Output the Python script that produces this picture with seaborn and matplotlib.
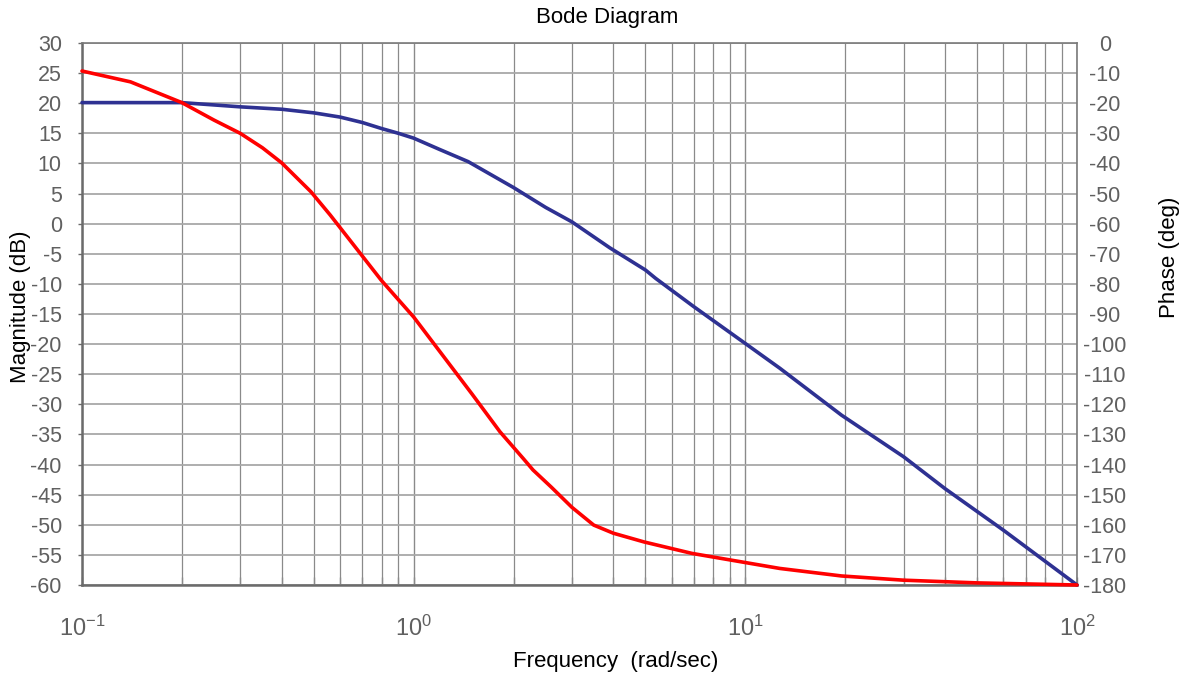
import matplotlib
matplotlib.use("Agg")
import matplotlib.pyplot as plt
import seaborn as sns
import pandas as pd
import numpy as np

# Magnitude curve (left axis, dB)
freq_mag = [0.1, 0.2, 0.3, 0.4, 0.5, 0.6, 0.7, 0.8, 0.9, 1.0, 1.2, 1.46, 2.0, 2.5,
            3.0, 3.9, 5.0, 5.37, 7.0, 10, 12.7, 19.5, 30, 40, 60, 100]
mag_db = [20.1, 20.1, 19.4, 19.0, 18.4, 17.7, 16.8, 15.8, 15.0, 14.2, 12.3, 10.3,
          6.0, 2.7, 0.3, -4.0, -7.7, -9.1, -13.8, -19.9, -24.0, -31.8, -38.7,
          -44.0, -50.9, -60]

# Phase curve (right axis, deg)
freq_ph = [0.1, 0.14, 0.2, 0.25, 0.3, 0.35, 0.4, 0.49, 0.56, 0.8, 1.0, 1.5, 1.82,
           2.14, 2.29, 2.6, 3.0, 3.49, 4.0, 4.95, 6.9, 11.1, 12.7, 19.5, 30, 50, 100]
phase_deg = [-9.3, -12.9, -19.8, -25.6, -30, -34.8, -39.8, -49.4, -57.1, -78.9, -91,
             -116.6, -129.1, -138, -141.8, -147.5, -154.2, -160.1, -162.8, -165.7,
             -169.5, -173.4, -174.5, -177, -178.4, -179.3, -180]

mag_ticks = list(range(-60, 31, 5))
phase_ticks = list(range(-180, 1, 10))
freq_ticks = [0.1, 1, 10, 100]
freq_labels = [r'$10^{\text{-1}}$', r'$10^{0}$', r'$10^{1}$', r'$10^{2}$']

sns.set_style("white")
plt.rcParams['font.family'] = ['Liberation Sans', 'DejaVu Sans']
plt.rcParams['mathtext.default'] = 'regular'
plt.rcParams['axes.unicode_minus'] = False

tick_col = '#606060'
blue = '#2e3192'
red = '#ff0000'

fig = plt.figure(figsize=(11.9, 6.77), dpi=100)
ax = fig.add_axes([82 / 1190, 1 - 585 / 677, (1077 - 82) / 1190, (585 - 43) / 677])

df_mag = pd.DataFrame({'freq': freq_mag, 'mag': mag_db})
df_ph = pd.DataFrame({'freq': freq_ph, 'phase': phase_deg})

sns.lineplot(data=df_mag, x='freq', y='mag', ax=ax, color=blue, lw=2.6,
             estimator=None, sort=False, clip_on=False, zorder=5)
ax.set_xscale('log')
ax.set_xlim(0.1, 100)
ax.set_ylim(-60, 30)
ax.set_yticks(mag_ticks)
ax.set_xticks(freq_ticks)
ax.set_xticklabels(freq_labels)
ax.set_xlabel('')
ax.set_ylabel('')

# grid
ax.grid(which='major', axis='x', color='#8a8a8a', lw=1.0)
ax.grid(which='minor', axis='x', color='#8a8a8a', lw=0.9)
ax.grid(which='major', axis='y', color='#a8a8a8', lw=1.3)
ax.set_axisbelow(True)

ax.tick_params(axis='y', direction='out', length=3, width=1, color='#6b6b6b',
               pad=11.5, labelsize=15.5, labelcolor=tick_col, left=True)
ax.tick_params(axis='x', which='both', direction='in', length=6, width=1,
               color='#8a8a8a', pad=22, labelsize=17, labelcolor=tick_col,
               bottom=True)
ax.tick_params(axis='x', which='minor', labelbottom=False)

for s in ['left', 'bottom']:
    ax.spines[s].set_color('#6b6b6b')
    ax.spines[s].set_linewidth(1.8)
for s in ['top', 'right']:
    ax.spines[s].set_color('#7a7a7a')
    ax.spines[s].set_linewidth(1.2)

ax2 = ax.twinx()
sns.lineplot(data=df_ph, x='freq', y='phase', ax=ax2, color=red, lw=2.6,
             estimator=None, sort=False, clip_on=False, zorder=6)
ax2.set_xscale('log')
ax2.set_xlim(0.1, 100)
ax2.set_ylim(-180, 0)
ax2.set_yticks(phase_ticks)
ax2.set_ylabel('')
ax2.grid(False)
ax2.tick_params(axis='y', direction='in', length=0, pad=20, labelsize=15.5,
                labelcolor=tick_col, right=True)
for lab in ax2.get_yticklabels():
    lab.set_horizontalalignment('center')
for s in ax2.spines.values():
    s.set_visible(False)

fig.text(0.51, 1 - 18 / 677, 'Bode Diagram', ha='center', va='center', fontsize=16, color='black')
fig.text(21 / 1190, 1 - 307 / 677, 'Magnitude (dB)', rotation=90, ha='center', va='center',
         fontsize=16, color='black')
fig.text(1170 / 1190, 1 - 257 / 677, 'Phase (deg)', rotation=90, ha='center', va='center',
         fontsize=16, color='black')
fig.text(616 / 1190, 1 - 662 / 677, 'Frequency  (rad/sec)', ha='center', va='center',
         fontsize=16, color='black')

fig.savefig('out.png', dpi=100)
